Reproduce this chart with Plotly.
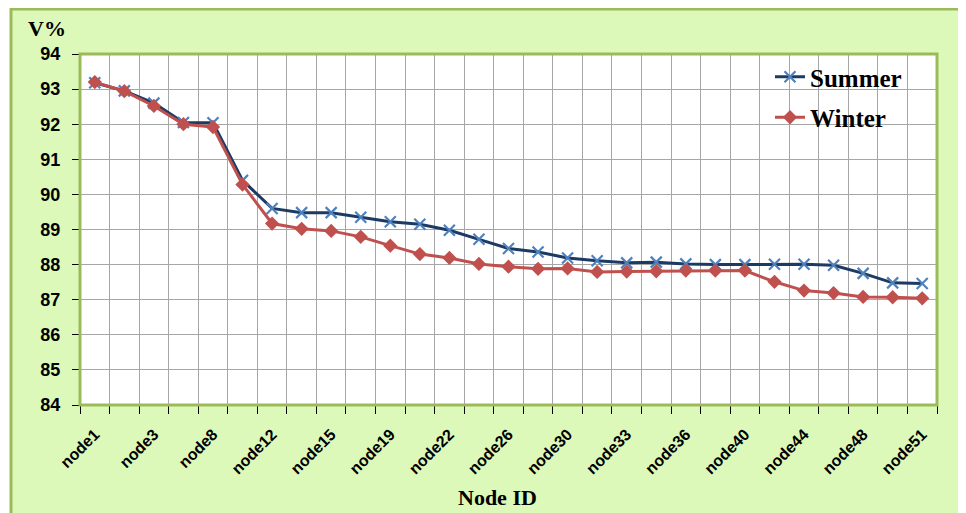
import plotly.graph_objects as go

nodes = ["node1", "node2", "node3", "node6", "node8", "node10", "node12", "node14",
         "node15", "node17", "node19", "node21", "node22", "node24", "node26", "node28",
         "node30", "node32", "node33", "node35", "node36", "node38", "node40", "node42",
         "node44", "node46", "node48", "node50", "node51"]
tick_labels = ["node1", "", "node3", "", "node8", "", "node12", "", "node15", "", "node19", "",
               "node22", "", "node26", "", "node30", "", "node33", "", "node36", "", "node40", "",
               "node44", "", "node48", "", "node51"]
summer = [93.18, 92.95, 92.6, 92.05, 92.04, 90.4, 89.6, 89.48, 89.48, 89.35, 89.22, 89.15,
          88.98, 88.72, 88.46, 88.36, 88.19, 88.11, 88.05, 88.07, 88.02, 88.0, 88.0, 88.01,
          88.01, 87.98, 87.75, 87.48, 87.46]
winter = [93.2, 92.94, 92.52, 92.0, 91.92, 90.28, 89.17, 89.02, 88.96, 88.79, 88.54, 88.3,
          88.19, 88.02, 87.94, 87.88, 87.89, 87.79, 87.8, 87.81, 87.83, 87.83, 87.83, 87.51,
          87.26, 87.19, 87.08, 87.07, 87.04]

OFF = 8  # page body margin
W, H = 966 - OFF, 513 - OFF
L, R, T, B = 80 - OFF, 937 - OFF, 54 - OFF, 405 - OFF


def px(x):
    return (x - OFF - L) / (R - L)


def py(y):
    return (B - (y - OFF)) / (B - T)


fig = go.Figure()
fig.add_trace(go.Scatter(
    x=nodes, y=summer, name="Summer", mode="lines+markers", legendgroup="s",
    line=dict(color="#1b3a64", width=3),
    marker=dict(symbol="x-thin", size=11, color="#4f81bd",
                line=dict(color="#4f81bd", width=2.2)),
))
fig.add_trace(go.Scatter(
    x=nodes, y=winter, name="Winter", mode="lines+markers", legendgroup="w",
    line=dict(color="#c0504d", width=3),
    marker=dict(symbol="diamond", size=11, color="#c0504d"),
))

shapes = [
    # outer chart frame
    dict(type="rect", xref="paper", yref="paper", layer="below",
         x0=px(11), x1=px(990), y0=py(540), y1=py(9),
         fillcolor="#ddf9ba", line=dict(color="#9bbb59", width=3)),
    # plot area
    dict(type="rect", xref="paper", yref="paper", layer="below",
         x0=0, x1=1, y0=0, y1=1, fillcolor="white", line=dict(width=0)),
    dict(type="rect", xref="paper", yref="paper", layer="above",
         x0=0, x1=1, y0=0, y1=1, line=dict(color="#9bbb59", width=3)),
]

annotations = [
    dict(text="V%", xref="paper", yref="paper", x=px(47), y=py(29), showarrow=False,
         xanchor="center", yanchor="middle",
         font=dict(family="Liberation Serif", size=22, color="black", weight="bold")),
    dict(text="Node ID", xref="paper", yref="paper", x=px(497), y=py(497), showarrow=False,
         xanchor="center", yanchor="middle",
         font=dict(family="Liberation Serif", size=22, color="black", weight="bold")),
]

fig.update_layout(
    width=W, height=H,
    margin=dict(l=L, r=W - R, t=T, b=H - B),
    paper_bgcolor="white", plot_bgcolor="white",
    shapes=shapes, annotations=annotations,
    showlegend=True,
    legend=dict(x=px(770), y=py(54), xanchor="left", yanchor="top",
                bgcolor="rgba(0,0,0,0)", tracegroupgap=5,
                font=dict(family="Liberation Serif", size=25, color="black", weight="bold")),
    xaxis=dict(
        type="category", tickmode="array", tickvals=nodes, ticktext=tick_labels,
        range=[-0.5, len(nodes) - 0.5], autorange=False,
        tickson="boundaries", ticks="outside", ticklen=8, tickcolor="black",
        showgrid=True, gridcolor="#a6a6a6", gridwidth=1,
        tickangle=-45, showline=False, zeroline=False, ticklabelstandoff=16,
        tickfont=dict(family="Liberation Sans", size=16, color="black", weight="bold"),
    ),
    yaxis=dict(
        range=[84, 94], dtick=1, tick0=84, ticks="outside", ticklen=7, tickcolor="black",
        showgrid=True, gridcolor="#a6a6a6", gridwidth=1, showline=False, zeroline=False,
        ticklabelstandoff=8,
        tickfont=dict(family="Liberation Sans", size=18, color="black", weight="bold"),
    ),
)

fig.write_html("out.html")
